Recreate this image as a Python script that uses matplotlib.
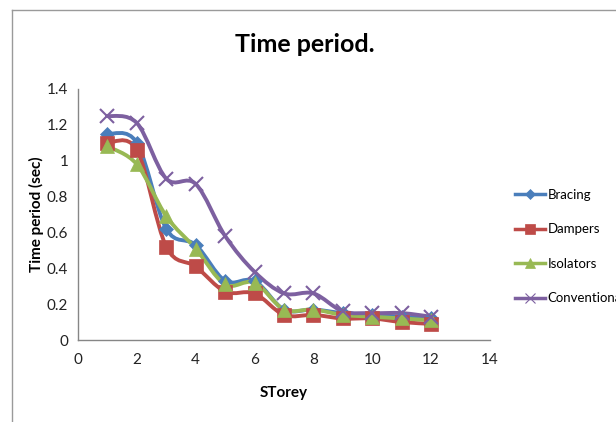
import matplotlib
matplotlib.use("Agg")
import matplotlib.pyplot as plt
from matplotlib.path import Path
from matplotlib.patches import PathPatch
from matplotlib.lines import Line2D
import numpy as np

plt.rcParams['font.family'] = ['Lato', 'DejaVu Sans']

storey = [1, 2, 3, 4, 5, 6, 7, 8, 9, 10, 11, 12]
bracing = [1.15, 1.10, 0.62, 0.53, 0.33, 0.33, 0.17, 0.17, 0.15, 0.14, 0.13, 0.12]
dampers = [1.10, 1.06, 0.52, 0.41, 0.27, 0.26, 0.14, 0.14, 0.12, 0.12, 0.10, 0.09]
isolators = [1.08, 0.98, 0.69, 0.51, 0.31, 0.32, 0.17, 0.17, 0.14, 0.13, 0.12, 0.11]
conventional = [1.25, 1.21, 0.90, 0.87, 0.58, 0.38, 0.26, 0.26, 0.16, 0.15, 0.15, 0.13]

series = [
    ("Bracing", bracing, "#4A7EBB", "D", 7),
    ("Dampers", dampers, "#BE4B48", "s", 10),
    ("Isolators", isolators, "#98B954", "^", 10),
    ("Conventional", conventional, "#7D60A0", "x", 10),
]

fig = plt.figure(figsize=(6.16, 4.22), dpi=100)
ax = fig.add_axes([78/616, 1-340/422, (490-78)/616, (340-89)/422])

def smooth_path(x, y):
    x = np.asarray(x, float); y = np.asarray(y, float)
    pts = np.column_stack([x, y])
    verts = [pts[0]]
    codes = [Path.MOVETO]
    n = len(pts)
    for i in range(n - 1):
        p0 = pts[i - 1] if i > 0 else pts[i]
        p1 = pts[i]
        p2 = pts[i + 1]
        p3 = pts[i + 2] if i + 2 < n else pts[i + 1]
        c1 = p1 + (p2 - p0) / 6.0
        c2 = p2 - (p3 - p1) / 6.0
        verts += [c1, c2, p2]
        codes += [Path.CURVE4] * 3
    return Path(verts, codes)

handles = []
for name, vals, col, mk, ms in series:
    patch = PathPatch(smooth_path(storey, vals), facecolor='none', edgecolor=col,
                      lw=2.8, zorder=2)
    ax.add_patch(patch)
    mew = 1.5 if mk == 'x' else 0.5
    ax.plot(storey, vals, linestyle='none', marker=mk, markersize=ms, color=col,
            markeredgecolor=col, markeredgewidth=mew, zorder=3)
    handles.append(Line2D([], [], color=col, lw=2.5, marker=mk,
                          markersize=(5 if mk == 'D' else 7),
                          markeredgewidth=(0.8 if mk == 'x' else 0.5), label=name))

ax.set_xlim(0, 14)
ax.set_ylim(0, 1.4)
ax.set_xticks(range(0, 15, 2))
ax.set_yticks(np.arange(0, 1.41, 0.2))
ax.set_yticklabels(["0", "0.2", "0.4", "0.6", "0.8", "1", "1.2", "1.4"])
for s in ['top', 'right']:
    ax.spines[s].set_visible(False)
for s in ['left', 'bottom']:
    ax.spines[s].set_color('#868686')
    ax.spines[s].set_linewidth(1)
ax.tick_params(length=0, labelsize=11, colors='#222222')
ax.tick_params(axis='x', pad=9)
ax.tick_params(axis='y', pad=7)

ax.set_xlabel("STorey", fontsize=11, fontweight='bold', labelpad=14)
ax.set_ylabel("Time period (sec)", fontsize=11, fontweight='bold', labelpad=2)
fig.text(305/616, 1-45/422, "Time period.", fontsize=18, fontweight='bold',
         ha='center', va='center')

fig.legend(handles=handles, loc='upper left', bbox_to_anchor=(515/616, 1-189/422),
           frameon=False, fontsize=9.5, handlelength=2.3, handletextpad=0.15,
           labelspacing=1.7, borderaxespad=0, borderpad=0)

# outer chart frame
fig.add_artist(Line2D([12/616, 12/616], [0, 1-10/422], color='#9a9a9a', lw=1))
fig.add_artist(Line2D([12/616, 1], [1-10/422, 1-10/422], color='#9a9a9a', lw=1))

fig.savefig("out.png", dpi=100)
